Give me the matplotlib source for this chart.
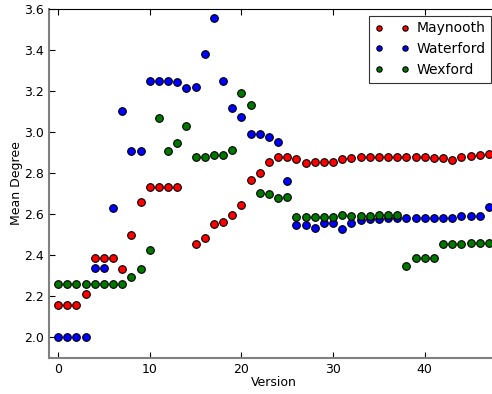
import numpy as np
import matplotlib
matplotlib.use("Agg")
import matplotlib.pyplot as plt

versions = list(range(48))

maynooth_x = [v for v in versions if v != 14]
maynooth = [2.16, 2.16, 2.16, 2.213, 2.387, 2.387, 2.387, 2.333, 2.501, 2.659,
            2.732, 2.732, 2.732, 2.732,
            2.457, 2.484, 2.553, 2.562, 2.594, 2.645, 2.766, 2.80, 2.854, 2.877,
            2.881, 2.868, 2.850, 2.854, 2.855, 2.855, 2.868, 2.875, 2.877, 2.877,
            2.877, 2.877, 2.877, 2.877, 2.877, 2.877, 2.873, 2.872, 2.866, 2.879,
            2.885, 2.890, 2.892]

waterford = [2.0, 2.0, 2.0, 2.0, 2.340, 2.340, 2.628, 3.102, 2.906, 2.906,
             3.247, 3.247, 3.247, 3.246, 3.213, 3.220, 3.380, 3.558, 3.249, 3.116,
             3.072, 2.989, 2.989, 2.977, 2.953, 2.764, 2.546, 2.546, 2.533, 2.555,
             2.555, 2.528, 2.558, 2.574, 2.575, 2.575, 2.584, 2.584, 2.580, 2.580,
             2.580, 2.580, 2.580, 2.580, 2.590, 2.590, 2.592, 2.636]

wexford = [2.258, 2.258, 2.258, 2.258, 2.258, 2.258, 2.258, 2.258, 2.294, 2.333,
           2.424, 3.068, 2.909, 2.945, 3.029, 2.877, 2.877, 2.888, 2.888, 2.911,
           3.190, 3.132, 2.702, 2.698, 2.677, 2.686, 2.587, 2.587, 2.587, 2.587,
           2.587, 2.597, 2.592, 2.592, 2.592, 2.595, 2.595, 2.597, 2.350, 2.385,
           2.385, 2.385, 2.455, 2.455, 2.455, 2.462, 2.462, 2.462]

fig = plt.figure(figsize=(4.92, 3.94), dpi=100)
ax = fig.add_axes([0.0996, 0.0914, 0.9126, 0.886])

mk = dict(linestyle="none", marker="o", markersize=5.5,
          markeredgecolor="black", markeredgewidth=0.8)
ax.plot(maynooth_x, maynooth, color="#FF0000", label="Maynooth", **mk)
ax.plot(versions, waterford, color="#0000FF", label="Waterford", **mk)
ax.plot(versions, wexford, color="#007800", label="Wexford", **mk)

ax.set_xlim(-1, 48)
ax.set_ylim(1.9, 3.6)
ax.set_xticks([0, 10, 20, 30, 40])
ax.set_yticks(np.arange(2.0, 3.61, 0.2))
ax.tick_params(direction="in", top=True, right=True, labelsize=9, length=4)
for side in ["left", "bottom"]:
    ax.spines[side].set_color("#808080")
    ax.spines[side].set_linewidth(1.5)
ax.set_xlabel("Version", fontsize=9, labelpad=0)
ax.set_ylabel("Mean Degree", fontsize=9, labelpad=1)

leg = ax.legend(loc="upper right", numpoints=2, fontsize=10, markerscale=0.7,
                fancybox=False, framealpha=1, handletextpad=0.5,
                handlelength=2.5)
leg.get_frame().set_edgecolor("#333333")
leg.get_frame().set_linewidth(0.8)

fig.savefig("out.png", dpi=100)
